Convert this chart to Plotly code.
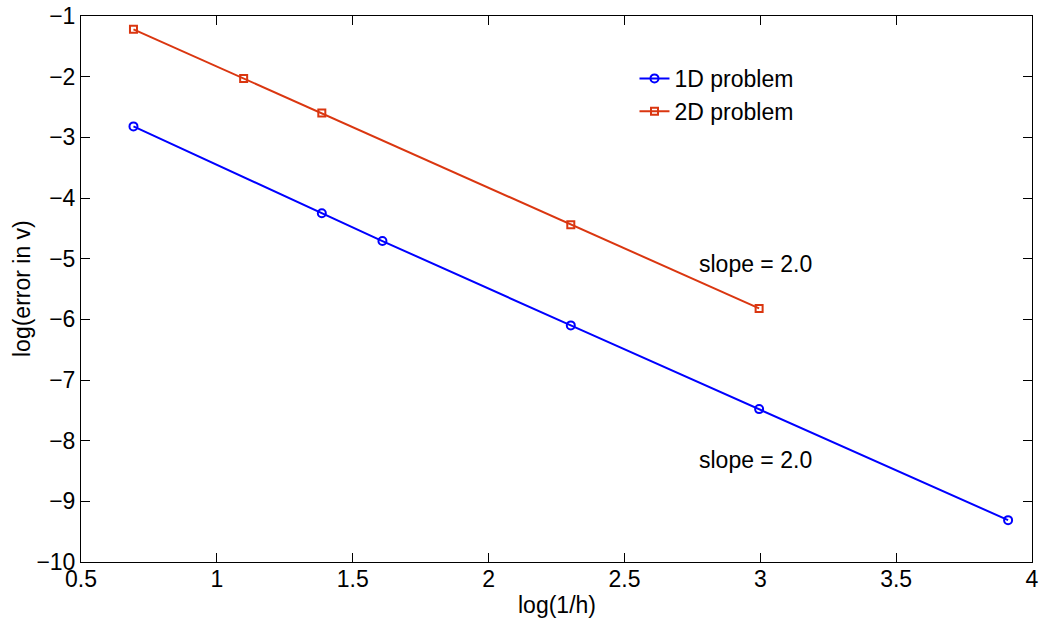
import plotly.graph_objects as go

x_1d = [0.6931, 1.3863, 1.6094, 2.3026, 2.9957, 3.9120]
y_1d = [-2.82, -4.25, -4.71, -6.10, -7.48, -9.31]
x_2d = [0.6931, 1.0986, 1.3863, 2.3026, 2.9957]
y_2d = [-1.22, -2.03, -2.60, -4.44, -5.82]

x_ticks = [0.5, 1, 1.5, 2, 2.5, 3, 3.5, 4]
x_ticktext = ["0.5", "1", "1.5", "2", "2.5", "3", "3.5", "4"]
y_ticks = list(range(-10, 0))
y_ticktext = ["\u221210", "\u22129", "\u22128", "\u22127", "\u22126", "\u22125", "\u22124", "\u22123", "\u22122", "\u22121"]

blue = "rgb(0,0,255)"
red = "rgb(218,54,16)"
font = "Liberation Sans, Arial, sans-serif"
fs = 23

fig = go.Figure()
fig.add_trace(go.Scatter(x=x_1d, y=y_1d, mode="lines+markers", name="1D problem",
                         line=dict(color=blue, width=2),
                         marker=dict(symbol="circle-open", size=8, color=blue, line=dict(width=2, color=blue))))
fig.add_trace(go.Scatter(x=x_2d, y=y_2d, mode="lines+markers", name="2D problem",
                         line=dict(color=red, width=2),
                         marker=dict(symbol="square-open", size=7, color=red, line=dict(width=2, color=red))))

fig.add_annotation(x=2.767, y=-5.09, text="slope = 2.0", showarrow=False, xanchor="left",
                   font=dict(size=fs, color="black", family=font))
fig.add_annotation(x=2.767, y=-8.32, text="slope = 2.0", showarrow=False, xanchor="left",
                   font=dict(size=fs, color="black", family=font))

# axis titles
fig.add_annotation(xref="paper", yref="paper", x=0.5, y=0, yshift=-43, yanchor="middle",
                   text="log(1/h)", showarrow=False, font=dict(size=fs, color="black", family=font))
fig.add_annotation(xref="paper", yref="paper", x=0, y=0.5, xshift=-59, xanchor="center", textangle=-90,
                   text="log(error in v)", showarrow=False, font=dict(size=fs, color="black", family=font))

axis_common = dict(showline=True, linecolor="black", linewidth=1, mirror="ticks", ticks="inside",
                   ticklen=9, tickcolor="black", showgrid=False, zeroline=False, automargin=False,
                   ticklabeloverflow="allow",
                   tickfont=dict(size=fs, color="black", family=font))
fig.update_xaxes(range=[0.5, 4], tickvals=x_ticks, ticktext=x_ticktext, ticklabelstandoff=-4, **axis_common)
fig.update_yaxes(range=[-10, -1], tickvals=y_ticks, ticktext=y_ticktext, **axis_common)

fig.update_layout(
    width=1042, height=618,
    margin=dict(l=81, r=10, t=16, b=56),
    plot_bgcolor="white", paper_bgcolor="white",
    font=dict(family=font, size=fs, color="black"),
    legend=dict(x=0.582, y=0.925, xanchor="left", yanchor="top", bgcolor="rgba(0,0,0,0)",
                font=dict(size=fs, family=font), tracegroupgap=0, itemwidth=30),
    showlegend=True,
)

fig.write_html("out.html", config={"displayModeBar": False},
               post_script="document.body.style.margin='0';")
